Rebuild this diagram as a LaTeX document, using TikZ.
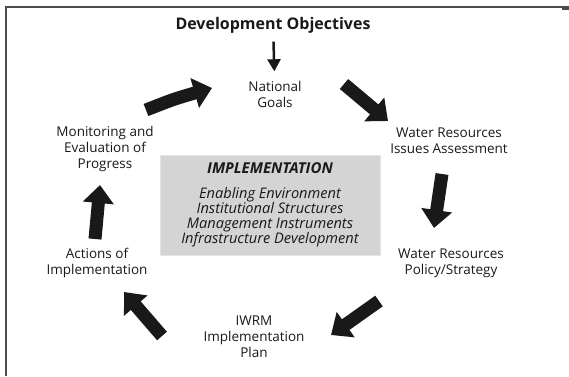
\documentclass[tikz,border=0pt]{standalone}
\usepackage{fontspec}
\setmainfont{Open Sans}
\usetikzlibrary{arrows.meta}

\tikzset{
  stage/.style={align=center, text=black!90, font=\fontsize{13.5}{16}\selectfont},
  fatarrow/.style={line width=13pt, black!90, -{Triangle[length=18pt,width=30pt]}},
}

\begin{document}
\begin{tikzpicture}[x=1pt,y=-1pt]
\useasboundingbox (0,0) rectangle (569,376);
\draw[line width=1.5pt, black!70] (6,376) -- (6,7) -- (569,7);
\draw[line width=2pt, black!70] (562,8.5) -- (569,8.5);

\begin{scope}[every node/.style={stage}]
    \node (devobj) at (273,25) [font=\bfseries\fontsize{16}{18}\selectfont] {Development Objectives};
    \node (goals) at (275,94) {National\\Goals};
    \node (issues) at (449,141) {Water Resources\\Issues Assessment};
    \node (policy) at (451,263) {Water Resources\\Policy/Strategy};
    \node (plan) at (254,337) {IWRM\\Implementation\\Plan};
    \node (actions) at (97,263) {Actions of\\Implementation};
    \node (monitor) at (105,149) {Monitoring and\\Evaluation of\\Progress};
\end{scope}

\node (impl) at (270,205) [rectangle, fill=black!17, draw=black!10, minimum width=220pt, minimum height=100pt,
    align=center, text=black!90, font=\itshape\fontsize{14.6}{14.4}\selectfont]
    {{\bfseries\fontsize{15}{16}\selectfont IMPLEMENTATION}\\[10pt]Enabling Environment\\Institutional Structures\\Management Instruments\\Infrastructure Development};

\draw[line width=2.5pt, black!90, -{Triangle[length=12pt,width=13pt]}, shorten <=5pt, shorten >=6pt] (devobj) -- (goals);

% cycle arrows
\coordinate (a1) at (146,110); \coordinate (b1) at (212,88);
\coordinate (a2) at (344,84);  \coordinate (b2) at (388,121);
\coordinate (a3) at (442,174); \coordinate (b3) at (434,228);
\coordinate (a4) at (379,301); \coordinate (b4) at (331,335);
\coordinate (a5) at (162,336); \coordinate (b5) at (124,292);
\coordinate (a6) at (95,239);  \coordinate (b6) at (100,185);
\draw[fatarrow] (a1) .. controls (174,99) .. (b1);
\foreach \i in {2,...,6}
    \draw[fatarrow] (a\i) -- (b\i);
\end{tikzpicture}
\end{document}
